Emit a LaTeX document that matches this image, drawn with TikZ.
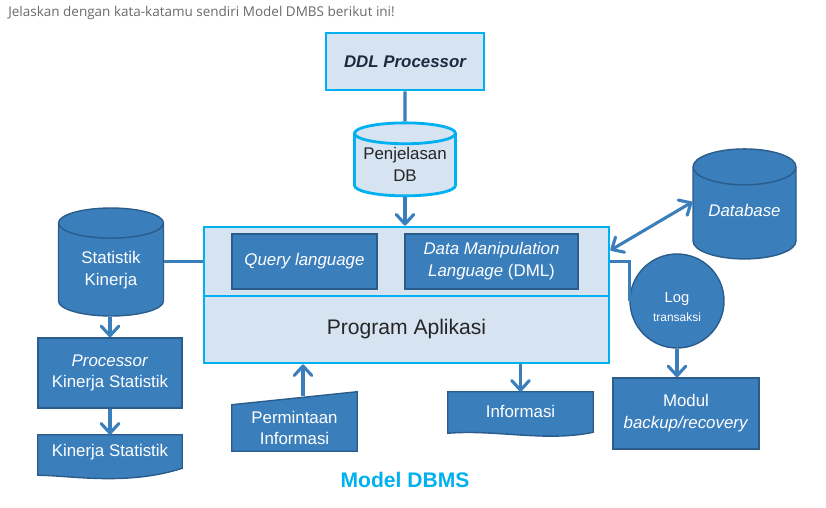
\documentclass[tikz,border=0pt]{standalone}
\usepackage{fontspec}
\setmainfont{Liberation Sans}
\newfontfamily\titlefont{Open Sans}
\usetikzlibrary{arrows.meta}
\usetikzlibrary{shapes.geometric}
\usetikzlibrary{backgrounds}

\definecolor{PanelFill}{RGB}{214,228,241}
\definecolor{PanelEdge}{RGB}{0,176,240}
\definecolor{BoxFill}{RGB}{58,126,188}
\definecolor{BoxEdge}{RGB}{42,92,140}
\definecolor{TextDark}{RGB}{38,38,38}
\definecolor{TextNavy}{RGB}{30,42,66}
\definecolor{TitleGrey}{RGB}{105,105,105}

\tikzset{
  panel/.style={draw=PanelEdge, fill=PanelFill, line width=2pt, text=TextDark, align=center,
    font=\fontsize{12}{15.5}\selectfont},
  paneltext/.style={text=TextDark, align=center, font=\fontsize{12}{15.5}\selectfont},
  bluetext/.style={text=white, align=center, font=\fontsize{12}{15.5}\selectfont},
  bluebox/.style={bluetext, draw=BoxEdge, fill=BoxFill, line width=1pt},
  docshape/.style={draw=BoxEdge, fill=BoxFill, line width=1pt},
  dbcyl/.style={cylinder, shape border rotate=90, aspect=0.44},
  link/.style={BoxFill, line width=2.2pt},
  flow/.style={link, -{Straight Barb[round, length=2.4mm, width=4.4mm]}},
  biflow/.style={link, {Straight Barb[round, length=2.4mm, width=4.4mm]}-{Straight Barb[round, length=2.4mm, width=4.4mm]}},
}

\begin{document}
\begin{tikzpicture}

  \useasboundingbox (0,0) rectangle (20.65cm,12.675cm);

  \node[anchor=west, inner sep=0pt, text=TitleGrey, font=\titlefont\fontsize{9.6}{11}\selectfont] (title)
    at (0.2cm,12.35cm) {Jelaskan dengan kata-katamu sendiri Model DMBS berikut ini!};

  % top: DDL and its description
  \node[panel, minimum width=3.95cm, minimum height=1.425cm, text=TextNavy,
    font=\fontsize{12}{14}\selectfont\bfseries\itshape] (ddl) at (10.125cm,11.1375cm) {DDL Processor};
  \node[panel, dbcyl, aspect=0.225, minimum width=2.525cm, minimum height=1.825cm] (penjelasan)
    at (10.125cm,8.4875cm) {\phantom{Penjelasan}\\\phantom{DB}};
  \node[paneltext] (penjelasantext) at (10.125cm,8.575cm) {Penjelasan\\DB};

  % main block
  \node[panel, minimum width=10.125cm, minimum height=1.725cm] (dmlpanel) at (10.1625cm,6.1375cm) {};
  \node[panel, minimum width=10.125cm, minimum height=1.675cm,
    font=\fontsize{15}{18}\selectfont] (program) at (10.1625cm,4.4375cm) {Program Aplikasi};
  \node[bluebox, minimum width=3.625cm, minimum height=1.375cm] (query)
    at (7.6125cm,6.1375cm) {\textit{Query language}};
  \node[bluebox, minimum width=4.325cm, minimum height=1.375cm] (dml)
    at (12.2875cm,6.1375cm) {\textit{Data Manipulation}\\\textit{Language} (DML)};

  % left column
  \node[bluebox, dbcyl, minimum width=2.625cm, minimum height=2.7cm] (statistik)
    at (2.775cm,5.85cm) {\phantom{Statistik}\\\phantom{Kinerja}};
  \node[bluetext] (statistiktext) at (2.775cm,5.925cm) {Statistik\\Kinerja};
  \node[bluebox, minimum width=3.6cm, minimum height=1.75cm] (proc)
    at (2.75cm,3.35cm) {\textit{Processor}\\Kinerja Statistik};
  \node[bluetext, minimum width=3.6cm, minimum height=0.875cm] (kinerja)
    at (2.75cm,1.3625cm) {Kinerja Statistik};

  % bottom
  \node[bluetext, minimum width=3.125cm, minimum height=1.15cm] (permintaan)
    at (7.3625cm,1.975cm) {Permintaan\\Informasi};
  \node[bluetext, minimum width=3.625cm, minimum height=0.95cm] (informasi)
    at (13.0125cm,2.4cm) {Informasi};

  % right column
  \node[bluebox, dbcyl, minimum width=2.575cm, minimum height=2.75cm] (database)
    at (18.6125cm,7.25cm) {\phantom{\textit{Database}}};
  \node[bluetext] (databasetext) at (18.6125cm,7.425cm) {\textit{Database}};
  \node[bluebox, circle, minimum size=2.35cm] (log) at (16.925cm,5.15cm) {};
  \node[bluetext] (logtext) at (16.925cm,5.0cm)
    {{\fontsize{10.5}{12}\selectfont Log}\\[-2pt]{\fontsize{8.5}{10}\selectfont transaksi}};
  \node[bluebox, minimum width=3.65cm, minimum height=1.775cm] (modul)
    at (17.15cm,2.3375cm) {Modul\\\textit{backup/recovery}};

  \node[text=PanelEdge, font=\fontsize{15}{18}\selectfont\bfseries] (model)
    at (10.125cm,0.675cm) {Model DBMS};

  \begin{pgfonlayer}{background}
    \draw[docshape] (kinerja.north west) -- (kinerja.north east) -- ([yshift=0.05cm]kinerja.south east)
      .. controls +(-1.4cm,-0.45cm) and +(0.8cm,0cm) .. ([yshift=-0.125cm]kinerja.south west) -- cycle;
    \draw[docshape] (informasi.north west) -- (informasi.north east) -- ([yshift=-0.05cm]informasi.south east)
      .. controls +(-1.2cm,-0.25cm) and +(1.2cm,0.1cm) .. ([yshift=-0.075cm]informasi.south west) -- cycle;
    \draw[docshape] (permintaan.south west) -- (permintaan.north west)
      -- ([yshift=0.325cm]permintaan.north east) -- (permintaan.south east) -- cycle;
  \end{pgfonlayer}

  % connectors
  \draw[link] (ddl.south) -- (penjelasan.north);
  \draw[flow] (penjelasan.south) -- (penjelasan.south |- dmlpanel.north);
  \draw[link] (dmlpanel.west -| statistik.east) -- (dmlpanel.west);
  \draw[flow] (proc.north |- statistik.south) -- (proc.north);
  \draw[flow] (proc.south) -- (kinerja.north);
  \coordinate (permintaantop) at (7.575cm,2.775cm);
  \draw[flow] (permintaantop) -- (permintaantop |- program.south);
  \draw[flow] (informasi.north |- program.south) -- (informasi.north);
  \draw[biflow] ([yshift=0.28cm]dmlpanel.east) -- ([yshift=0.375cm]database.west);
  \draw[link] (dmlpanel.east) -| (log.west);
  \draw[flow] (log.south) -- (log.south |- modul.north);

\end{tikzpicture}
\end{document}
